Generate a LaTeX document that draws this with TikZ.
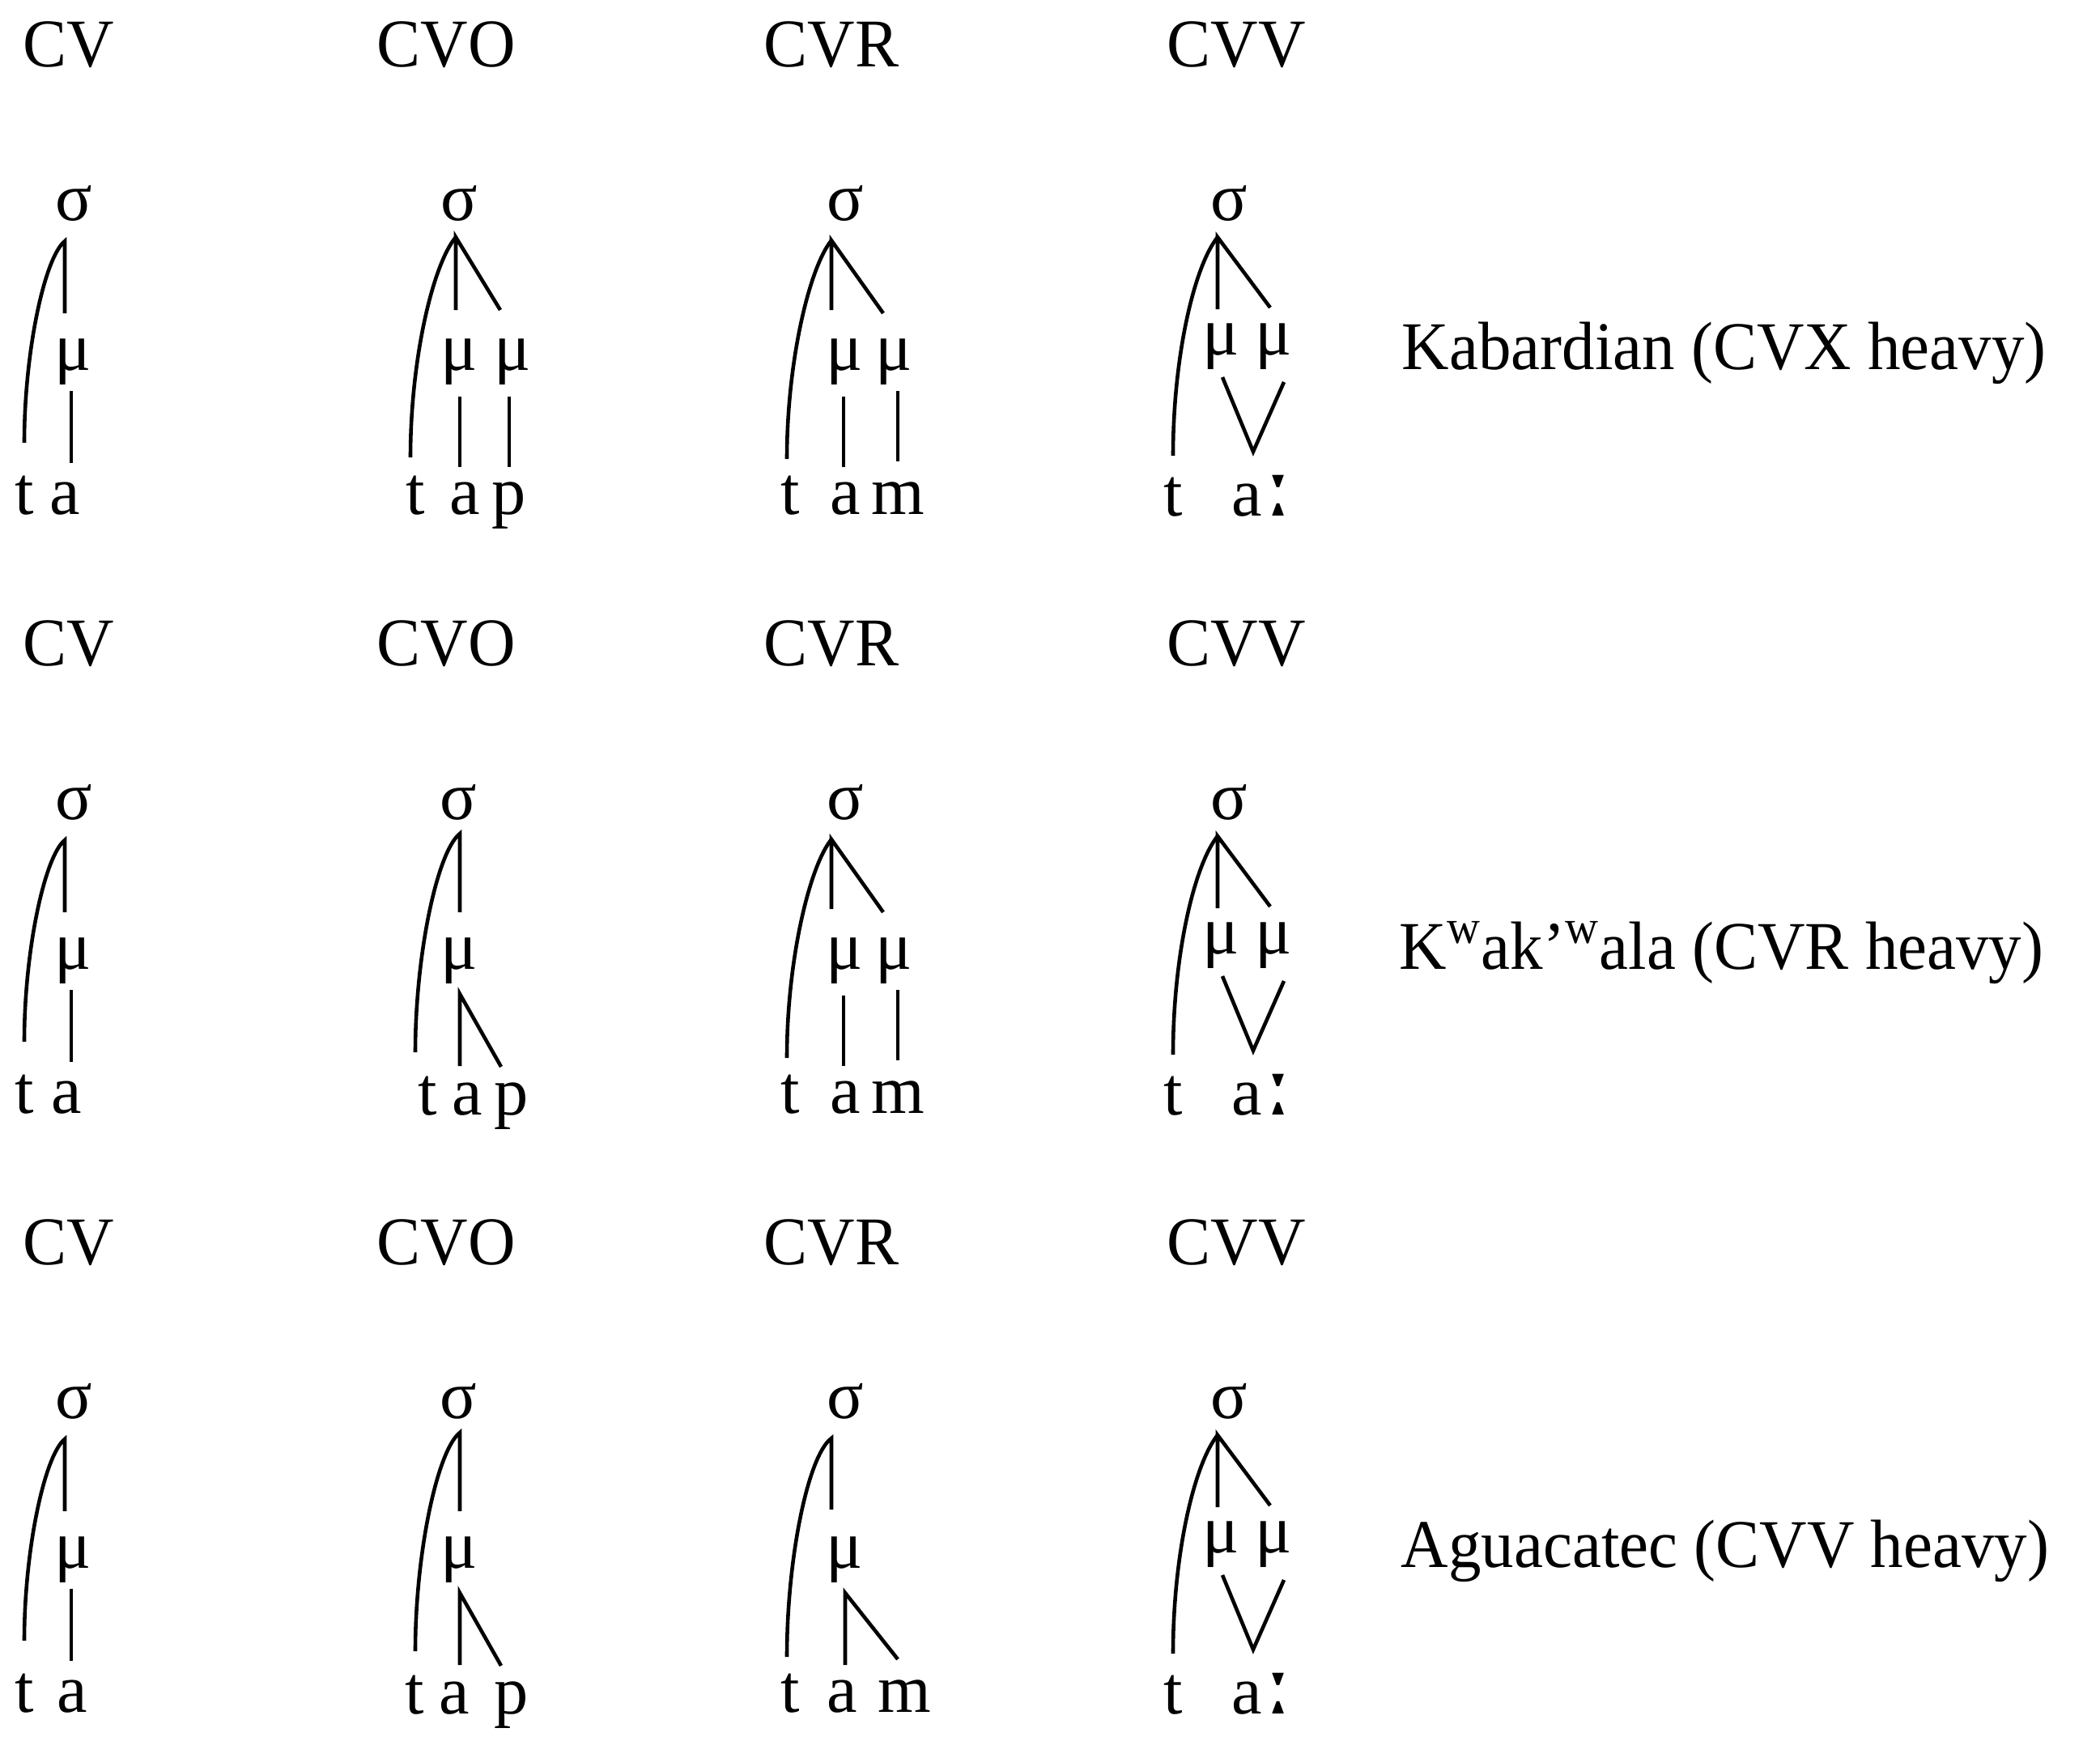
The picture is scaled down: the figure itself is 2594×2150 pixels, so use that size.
\documentclass[tikz,border=0pt]{standalone}
\usepackage{fontspec}
\usepackage{graphicx}
\setmainfont{Liberation Serif}
\newfontfamily\ipafont{DejaVu Serif}
\tikzset{
  lab/.style={inner sep=0pt, anchor=base, font=\fontsize{24}{28}\selectfont},
  hdr/.style={lab, anchor=base west},
  edge/.style={line width=1.3pt, line cap=butt, line join=miter},
}
\newcommand\sq[1]{\scalebox{0.96}[1]{#1}}
% headers
\newcommand\myHeaders[1]{%
  \node[hdr] (hA#1) at (28,82) {\sq{CV}};
  \node[hdr] (hB#1) at (465,82) {\sq{CVO}};
  \node[hdr] (hC#1) at (943,82) {\sq{CVR}};
  \node[hdr] (hD#1) at (1441,82) {\sq{CVV}};
}
% CV tree: #1 row, #2 x of a
\newcommand\myTreeCV[2]{%
  \node[lab] (sA#1) at (91,272) {σ};
  \node[lab] (mA#1) at (90,457) {μ};
  \node[lab] (tA#1) at (30,635) {t};
  \node[lab] (aA#1) at (#2,635) {a};
  \coordinate (apA#1) at (80,298);
  \coordinate (ubA#1) at (80,387);
  \coordinate (abA#1) at (30,547);
  \coordinate (ltA#1) at (88,483);
  \coordinate (lbA#1) at (88,572);
  \draw[edge] (abA#1) .. controls (30,435) and (55,318) .. (apA#1) -- (ubA#1);
  \draw[edge] (ltA#1) -- (lbA#1);
}
% CVO heavy
\newcommand\myTreeCVOh[1]{%
  \node[lab] (sB#1) at (567,272) {σ};
  \node[lab] (mB#1) at (567,457) {μ};
  \node[lab] (nB#1) at (633,457) {μ};
  \node[lab] (tB#1) at (513,635) {t};
  \node[lab] (aB#1) at (574,635) {a};
  \node[lab] (pB#1) at (629,635) {p};
  \coordinate (apB#1) at (563,293);
  \coordinate (vbB#1) at (563,383);
  \coordinate (dbB#1) at (618,383);
  \coordinate (abB#1) at (507,565);
  \coordinate (x1B#1) at (568,490);
  \coordinate (y1B#1) at (568,577);
  \coordinate (x2B#1) at (629,490);
  \coordinate (y2B#1) at (629,577);
  \draw[edge] (abB#1) .. controls (507,443) and (535,326) .. (apB#1);
  \draw[edge] (vbB#1) -- (apB#1) -- (dbB#1);
  \draw[edge] (x1B#1) -- (y1B#1);
  \draw[edge] (x2B#1) -- (y2B#1);
}
% CVO light: #1 row, #2 x of t, #3 x of a
\newcommand\myTreeCVOl[3]{%
  \node[lab] (sB#1) at (566,272) {σ};
  \node[lab] (mB#1) at (567,457) {μ};
  \node[lab] (tB#1) at (#2,637) {t};
  \node[lab] (aB#1) at (#3,637) {a};
  \node[lab] (pB#1) at (632,637) {p};
  \coordinate (apB#1) at (568,290);
  \coordinate (vbB#1) at (568,387);
  \coordinate (abB#1) at (513,560);
  \coordinate (lpB#1) at (568,488);
  \coordinate (y1B#1) at (568,577);
  \coordinate (y2B#1) at (619,578);
  \draw[edge] (abB#1) .. controls (513,440) and (540,312) .. (apB#1) -- (vbB#1);
  \draw[edge] (y1B#1) -- (lpB#1) -- (y2B#1);
}
% CVR heavy
\newcommand\myTreeCVRh[1]{%
  \node[lab] (sC#1) at (1044,272) {σ};
  \node[lab] (mC#1) at (1043,457) {μ};
  \node[lab] (nC#1) at (1104,457) {μ};
  \node[lab] (tC#1) at (976,635) {t};
  \node[lab] (aC#1) at (1044,635) {a};
  \node[lab] (rC#1) at (1109,635) {m};
  \coordinate (apC#1) at (1027,297);
  \coordinate (vbC#1) at (1027,383);
  \coordinate (dbC#1) at (1091,387);
  \coordinate (abC#1) at (972,567);
  \coordinate (x1C#1) at (1042,490);
  \coordinate (y1C#1) at (1042,577);
  \coordinate (x2C#1) at (1109,483);
  \coordinate (y2C#1) at (1109,570);
  \draw[edge] (abC#1) .. controls (972,446) and (1000,330) .. (apC#1);
  \draw[edge] (vbC#1) -- (apC#1) -- (dbC#1);
  \draw[edge] (x1C#1) -- (y1C#1);
  \draw[edge] (x2C#1) -- (y2C#1);
}
% CVR light
\newcommand\myTreeCVRl[1]{%
  \node[lab] (sC#1) at (1044,272) {σ};
  \node[lab] (mC#1) at (1043,457) {μ};
  \node[lab] (tC#1) at (976,635) {t};
  \node[lab] (aC#1) at (1040,635) {a};
  \node[lab] (rC#1) at (1117,635) {m};
  \coordinate (apC#1) at (1027,297);
  \coordinate (vbC#1) at (1027,385);
  \coordinate (abC#1) at (972,567);
  \coordinate (lpC#1) at (1044,488);
  \coordinate (y1C#1) at (1044,577);
  \coordinate (y2C#1) at (1109,570);
  \draw[edge] (abC#1) .. controls (972,446) and (998,318) .. (apC#1) -- (vbC#1);
  \draw[edge] (y1C#1) -- (lpC#1) -- (y2C#1);
}
% CVV
\newcommand\myTreeCVV[1]{%
  \node[lab] (sD#1) at (1518,272) {σ};
  \node[lab] (mD#1) at (1508,438) {μ};
  \node[lab] (nD#1) at (1573,438) {μ};
  \node[lab] (tD#1) at (1449,637) {t};
  \node[lab, anchor=base west] (aD#1) at (1521,637) {a{\ipafont\fontsize{33}{33}\selectfont ː}};
  \coordinate (apD#1) at (1504,293);
  \coordinate (vbD#1) at (1504,382);
  \coordinate (dbD#1) at (1569,380);
  \coordinate (abD#1) at (1449,563);
  \coordinate (vlD#1) at (1510,466);
  \coordinate (vpD#1) at (1548,558);
  \coordinate (vrD#1) at (1586,472);
  \draw[edge] (abD#1) .. controls (1449,441) and (1475,329) .. (apD#1);
  \draw[edge] (vbD#1) -- (apD#1) -- (dbD#1);
  \draw[edge] (vlD#1) -- (vpD#1) -- (vrD#1);
}
\begin{document}
\begin{tikzpicture}[x=0.1mm, y=-0.1mm]
\useasboundingbox (0,0) rectangle (2594,2150);
% row 1
\begin{scope}
  \myHeaders{1}
  \myTreeCV{1}{80}
  \myTreeCVOh{1}
  \myTreeCVRh{1}
  \myTreeCVV{1}
  \node[hdr] (lang1) at (1731,456) {\sq{Kabardian (CVX heavy)}};
\end{scope}
% row 2
\begin{scope}[yshift=-74mm]
  \myHeaders{2}
  \myTreeCV{2}{82}
  \myTreeCVOl{2}{528}{577}
  \myTreeCVRh{2}
  \myTreeCVV{2}
  \node[hdr] (lang2) at (1728,457) {\sq{K\textsuperscript{w}ak’\textsuperscript{w}ala (CVR heavy)}};
\end{scope}
% row 3
\begin{scope}[yshift=-148mm]
  \myHeaders{3}
  \myTreeCV{3}{89}
  \myTreeCVOl{3}{512}{561}
  \myTreeCVRl{3}
  \myTreeCVV{3}
  \node[hdr] (lang3) at (1730,456) {\sq{Aguacatec (CVV heavy)}};
\end{scope}
\end{tikzpicture}
\end{document}
